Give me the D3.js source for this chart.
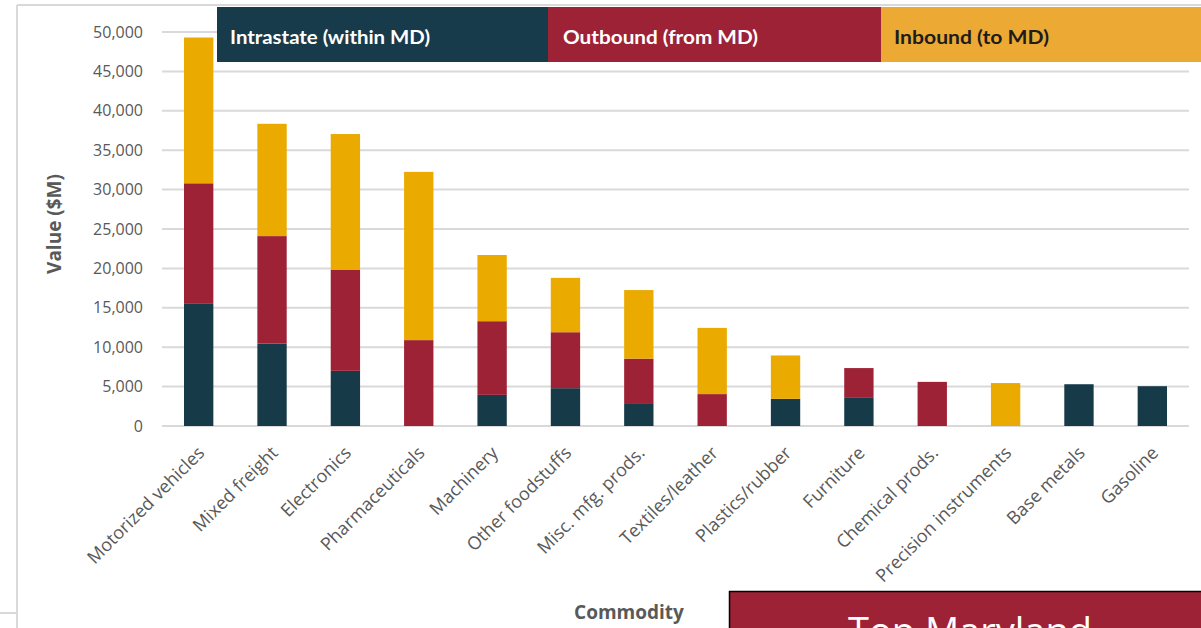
<!DOCTYPE html>
<html>
<head>
<meta charset="utf-8">
<script src="https://cdn.jsdelivr.net/npm/d3@7"></script>
<style>
  html, body { margin: 0; padding: 0; background: #fff; overflow: hidden; }
  svg { display: block; }
</style>
</head>
<body>
<svg id="chart" width="1201" height="628"></svg>
<script>
// Top commodities by value, split by flow direction ($M)
const categories = [
  "Motorized vehicles", "Mixed freight", "Electronics", "Pharmaceuticals",
  "Machinery", "Other foodstuffs", "Misc. mfg. prods.", "Textiles/leather",
  "Plastics/rubber", "Furniture", "Chemical prods.", "Precision instruments",
  "Base metals", "Gasoline"
];
const intrastate = [15500, 10450, 7000, 0, 3950, 4800, 2900, 0, 3450, 3650, 0, 0, 5300, 5050];
const outbound   = [15300, 13650, 12800, 10900, 9350, 7100, 5650, 4050, 0, 3700, 5600, 0, 0, 0];
const inbound    = [18500, 14250, 17250, 21350, 8400, 6900, 8700, 8400, 5500, 0, 0, 5450, 0, 0];
const seriesNames = ["Intrastate (within MD)", "Outbound (from MD)", "Inbound (to MD)"];
const yTicks = [0, 5000, 10000, 15000, 20000, 25000, 30000, 35000, 40000, 45000, 50000];

const barColors = ["#173a49", "#9e2236", "#eaaa00"];
const legendColors = ["#173b4a", "#9e2236", "#eca933"];
const legendText = ["#ffffff", "#ffffff", "#1d1d1d"];
const legendTextWidth = [200, 195, 155];

const svg = d3.select("#chart");
const W = 1201, H = 628;
const font = "'Open Sans', 'Noto Sans', sans-serif";

// outer frame lines
const frame = svg.append("g").attr("stroke", "#d9d9d9").attr("stroke-width", 2).attr("fill", "none");
frame.append("line").attr("x1", 17).attr("x2", W).attr("y1", 5).attr("y2", 5);
frame.append("line").attr("x1", 17).attr("x2", 17).attr("y1", 5).attr("y2", H);
frame.append("line").attr("x1", 0).attr("x2", 17).attr("y1", 613).attr("y2", 613);

const plot = { left: 162, right: 1189, top: 32, bottom: 426 };

const x = d3.scaleBand().domain(categories).range([plot.left, plot.right]).paddingInner(0.6).paddingOuter(0.3);
const y = d3.scaleLinear().domain([0, 50000]).range([plot.bottom, plot.top]);

// gridlines
svg.append("g")
  .selectAll("line").data(yTicks).join("line")
  .attr("x1", plot.left).attr("x2", plot.right)
  .attr("y1", d => y(d)).attr("y2", d => y(d))
  .attr("stroke", "#d9d9d9").attr("stroke-width", 2);

// y axis tick labels
const yAxis = d3.axisLeft(y).tickValues(yTicks).tickSize(0).tickPadding(0)
  .tickFormat(d3.format(","));
const yg = svg.append("g").attr("transform", `translate(143,0)`).call(yAxis);
yg.select(".domain").remove();
yg.selectAll("text")
  .attr("font-family", font)
  .attr("font-size", 16).attr("fill", "#595959");

// stacked bars
const rows = categories.map((c, i) => ({ cat: c, s0: intrastate[i], s1: outbound[i], s2: inbound[i] }));
const stack = d3.stack().keys(["s0", "s1", "s2"]);
const layers = stack(rows);

svg.append("g").selectAll("g").data(layers).join("g")
  .attr("fill", (d, i) => barColors[i])
  .selectAll("rect").data(d => d.filter(p => p[1] > p[0])).join("rect")
  .attr("x", d => x(d.data.cat))
  .attr("width", x.bandwidth())
  .attr("y", d => y(d[1]))
  .attr("height", d => y(d[0]) - y(d[1]));

// category labels
svg.append("g").selectAll("text").data(categories).join("text")
  .attr("transform", d => `translate(${x(d) + x.bandwidth() / 2 + 7},${454}) rotate(-45)`)
  .attr("text-anchor", "end")
  .attr("font-family", font)
  .attr("font-size", 18).attr("fill", "#595959")
  .text(d => d);

// axis titles
svg.append("text")
  .attr("transform", `translate(61,${(plot.top + plot.bottom) / 2 - 5}) rotate(-90)`)
  .attr("text-anchor", "middle")
  .attr("font-family", font)
  .attr("font-weight", "bold").attr("font-size", 19).attr("fill", "#595959")
  .text("Value ($M)");

svg.append("text")
  .attr("x", 629).attr("y", 619)
  .attr("text-anchor", "middle")
  .attr("font-family", font)
  .attr("font-weight", "bold").attr("font-size", 19).attr("fill", "#595959")
  .text("Commodity");

// legend banner
const legendX = [217, 548, 881, 1201];
const lg = svg.append("g");
seriesNames.forEach((name, i) => {
  lg.append("rect")
    .attr("x", legendX[i]).attr("y", 7)
    .attr("width", legendX[i + 1] - legendX[i]).attr("height", 55)
    .attr("fill", legendColors[i]);
  lg.append("text")
    .attr("x", legendX[i] + 12 + (i === 1 ? 3 : 1)).attr("y", 44)
    .attr("font-family", "'Lato', 'Open Sans', sans-serif")
    .attr("font-weight", "bold").attr("font-size", 19)
    .attr("textLength", legendTextWidth[i]).attr("lengthAdjust", "spacingAndGlyphs")
    .attr("fill", legendText[i])
    .text(name);
});

// title box in lower right
svg.append("rect")
  .attr("x", 729.5).attr("y", 591.5).attr("width", 490).attr("height", 60)
  .attr("fill", "#9e2236").attr("stroke", "#000").attr("stroke-width", 1.5);
svg.append("text")
  .attr("x", 970).attr("y", 645)
  .attr("text-anchor", "middle")
  .attr("font-family", font)
  .attr("font-size", 38).attr("fill", "#ffffff")
  .text("Top Maryland");
</script>
</body>
</html>
